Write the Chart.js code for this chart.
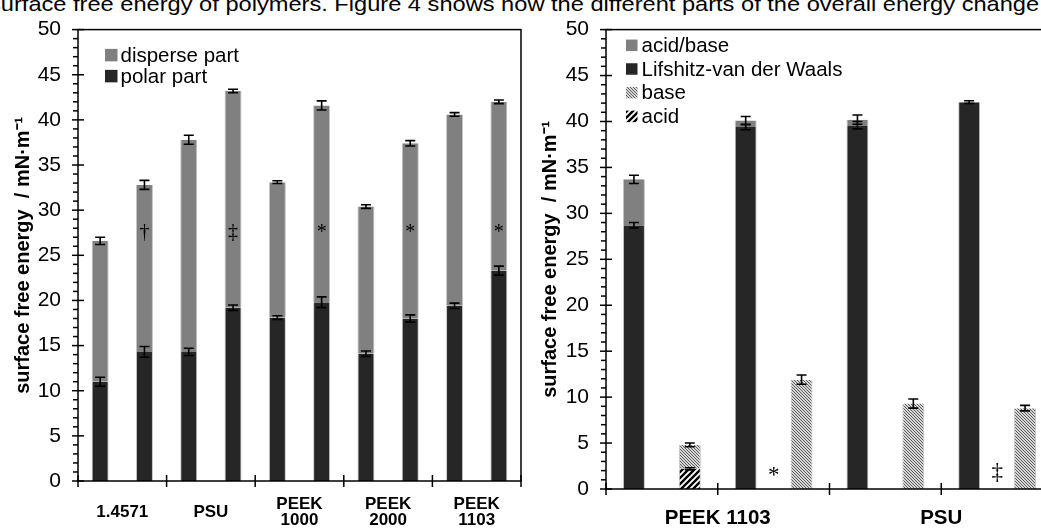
<!DOCTYPE html>
<html>
<head>
<meta charset="utf-8">
<script src="https://cdn.jsdelivr.net/npm/chart.js@4.4.1/dist/chart.umd.min.js"></script>
<style>
body { margin: 0; background: #fff; overflow: hidden; }
#page { position: relative; width: 1041px; height: 530px; overflow: hidden; }
#topText { position: absolute; left: -11px; top: -7px; font: 21px/21px "Liberation Sans", Arial, sans-serif; white-space: nowrap; color: #000; transform: scaleX(1.125); transform-origin: 0 0; }
#leftChart { position: absolute; left: 0; top: 0; }
#rightChart { position: absolute; left: 528px; top: 0; }
</style>
</head>
<body>
<div id="page">
<div id="topText">surface free energy of polymers. Figure 4 shows how the different parts of the overall energy change</div>
<canvas id="leftChart" width="530" height="530"></canvas>
<canvas id="rightChart" width="530" height="530"></canvas>
</div>
<script>
// left chart: polar + disperse part, two bars per material
const leftGroups = ['1.4571', 'PSU', ['PEEK', '1000'], ['PEEK', '2000'], ['PEEK', '1103']];
const leftBars = ['1.4571 (1)', '1.4571 (2)', 'PSU (1)', 'PSU (2)', 'PEEK 1000 (1)', 'PEEK 1000 (2)',
	'PEEK 2000 (1)', 'PEEK 2000 (2)', 'PEEK 1103 (1)', 'PEEK 1103 (2)'];
const polarPart = [11.0, 14.3, 14.3, 19.2, 18.1, 19.8, 14.1, 18.0, 19.4, 23.3];
const polarErr = [0.5, 0.6, 0.4, 0.3, 0.2, 0.6, 0.3, 0.4, 0.3, 0.5];
const dispersePart = [15.6, 18.5, 23.5, 24.0, 15.0, 21.8, 16.3, 19.4, 21.2, 18.7];
const totalErr = [0.4, 0.5, 0.5, 0.2, 0.15, 0.5, 0.2, 0.3, 0.2, 0.2];
const leftMarks = ['', '†', '', '‡', '', '*', '', '*', '', '*'];
const leftMarkY = 27.5;

// right chart: acid/base split, four bars per material
const rightGroups = ['PEEK 1103', 'PSU'];
const rightBars = ['PEEK 1103 LW+AB', 'PEEK 1103 acid+base', 'PEEK 1103 LW+AB (2)', 'PEEK 1103 base (2)',
	'PSU LW+AB', 'PSU base', 'PSU LW+AB (2)', 'PSU base (2)'];
const acidPart = [null, 2.2, null, null, null, null, null, null];
const acidErr = [null, 0.12, null, null, null, null, null, null];
const basePart = [null, 2.6, null, 11.9, null, 9.3, null, 8.8];
const baseErr = [null, 0.2, null, 0.5, null, 0.5, null, 0.3];
const lwPart = [28.7, null, 39.4, null, 39.6, null, 42.1, null];
const lwErr = [0.3, null, 0.3, null, 0.4, null, 0.15, null];
const abPart = [5.0, null, 0.7, null, 0.6, null, null, null];
const abErr = [0.45, null, 0.45, null, 0.5, null, null, null];
const rightMarkAt = [2.5, 6.5];
const rightMarkText = ['*', '‡'];
const rightMarkY = [1.4, 1.7];

Chart.defaults.font.family = '"Liberation Sans", Arial, sans-serif';
Chart.defaults.color = '#000';
Chart.defaults.animation = false;

const dark = '#262626';
const grey = '#808080';
const edge = '#c4c4c4';

function stipple() {
	const p = document.createElement('canvas');
	p.width = 3; p.height = 3;
	const g = p.getContext('2d');
	g.fillStyle = '#d4d4d4';
	g.fillRect(0, 0, 3, 3);
	g.fillStyle = '#606060';
	for (let i = 0; i < 3; i++) g.fillRect(i, i, 1, 1);
	return g.createPattern(p, 'repeat');
}

function hatch() {
	const p = document.createElement('canvas');
	p.width = 6; p.height = 6;
	const g = p.getContext('2d');
	g.fillStyle = '#fff';
	g.fillRect(0, 0, 6, 6);
	g.strokeStyle = '#000';
	g.lineWidth = 2.4;
	g.beginPath();
	g.moveTo(-1, 7); g.lineTo(7, -1);
	g.moveTo(-4, 4); g.lineTo(4, -4);
	g.moveTo(2, 10); g.lineTo(10, 2);
	g.stroke();
	return g.createPattern(p, 'repeat');
}

// error bars, frame, tick marks, symbols and legend
const extras = {
	id: 'extras',
	afterDatasetsDraw(chart, args, opts) {
		const c = chart.ctx;
		const x = chart.scales.x;
		const y = chart.scales.y;
		const a = chart.chartArea;
		c.save();
		c.strokeStyle = '#000';
		c.lineWidth = 1.6;
		opts.errors.forEach((errs, di) => {
			const meta = chart.getDatasetMeta(di);
			errs.forEach((e, i) => {
				const bar = meta.data[i];
				if (e == null || !bar || chart.data.datasets[di].data[i] == null) return;
				const h = Math.abs(y.getPixelForValue(0) - y.getPixelForValue(e));
				c.beginPath();
				c.moveTo(bar.x, bar.y - h); c.lineTo(bar.x, bar.y + h);
				c.moveTo(bar.x - 5, bar.y - h); c.lineTo(bar.x + 5, bar.y - h);
				c.moveTo(bar.x - 5, bar.y + h); c.lineTo(bar.x + 5, bar.y + h);
				c.stroke();
			});
		});

		c.lineWidth = 1.5;
		c.strokeRect(a.left, a.top, a.right - a.left, a.bottom - a.top);
		for (let v = y.min; v <= y.max; v++) {
			const py = y.getPixelForValue(v);
			c.beginPath();
			if (v % 5 === 0) { c.moveTo(a.left - 6, py); c.lineTo(a.left + 6, py); }
			else { c.moveTo(a.left - 5, py); c.lineTo(a.left, py); }
			c.stroke();
		}
		const n = chart.data.labels.length;
		for (let k = 0; k <= n; k += opts.groupSize) {
			const px = x.getPixelForValue(k - 0.5);
			c.beginPath();
			c.moveTo(px, a.bottom - 6); c.lineTo(px, a.bottom + 6);
			c.stroke();
		}

		c.fillStyle = '#000';
		c.font = opts.markSize + 'px "Liberation Serif"';
		c.textAlign = 'center';
		c.textBaseline = 'middle';
		opts.marks.forEach(m => c.fillText(m.text, x.getPixelForValue(m.at), y.getPixelForValue(m.y)));

		const lg = opts.legend;
		c.font = '20.5px "Liberation Sans"';
		c.textAlign = 'left';
		chart.data.datasets.slice().reverse().forEach((ds, i) => {
			const cy = a.top + lg.y + i * lg.step;
			const bx = a.left + lg.x;
			c.fillStyle = ds.backgroundColor;
			c.fillRect(bx, cy - lg.box / 2, lg.box, lg.box);
			c.fillStyle = '#000';
			c.fillText(ds.label, bx + lg.box + lg.gap, cy + 1);
		});
		c.restore();
	}
};

function yAxis(pad) {
	return {
		stacked: true,
		min: 0,
		max: 50,
		border: { display: false },
		grid: { display: false, drawTicks: false },
		ticks: { stepSize: 5, padding: 17, font: { size: 21 } },
		title: {
			display: true,
			text: 'surface free energy  / mN·m⁻¹',
			font: { size: 20, weight: 'bold' },
			padding: { top: pad, bottom: 0 }
		},
		afterFit: s => { s.width = 78; }
	};
}

function groupAxis(groups, size, pad, height) {
	return {
		type: 'category',
		labels: groups,
		position: 'bottom',
		offset: true,
		grid: { display: false, drawTicks: false },
		border: { display: false },
		ticks: { font: { size: size, weight: 'bold', lineHeight: 0.95 }, padding: pad, crossAlign: 'center', maxRotation: 0, autoSkip: false },
		afterFit: s => { s.height = height; }
	};
}

const barLook = { borderColor: edge, borderWidth: { left: 1, right: 1, top: 0, bottom: 0 }, barPercentage: 1 };

let leftChart = new Chart(document.getElementById('leftChart'), {
	type: 'bar',
	data: {
		labels: leftBars,
		datasets: [
			{ label: 'polar part', data: polarPart, backgroundColor: dark, categoryPercentage: 0.384, ...barLook },
			{ label: 'disperse part', data: dispersePart, backgroundColor: grey, categoryPercentage: 0.384, ...barLook }
		]
	},
	options: {
		responsive: false,
		layout: { padding: { top: 23, right: 9, left: 0, bottom: 0 } },
		plugins: {
			legend: { display: false },
			tooltip: { enabled: false },
			extras: {
				errors: [polarErr, totalErr],
				groupSize: 2,
				markSize: 20,
				marks: leftMarks.map((t, i) => ({ at: i, y: leftMarkY, text: t })).filter(m => m.text),
				legend: { x: 27, y: 25.5, step: 21, box: 12.5, gap: 3 }
			}
		},
		scales: {
			x: { display: false, stacked: true },
			x2: groupAxis(leftGroups, 17, 23, 49),
			y: yAxis(11)
		}
	},
	plugins: [extras]
});

const hatchFill = hatch();
const stippleFill = stipple();

let rightChart = new Chart(document.getElementById('rightChart'), {
	type: 'bar',
	data: {
		labels: rightBars,
		datasets: [
			{ label: 'acid', data: acidPart, backgroundColor: hatchFill, categoryPercentage: 0.393, ...barLook },
			{ label: 'base', data: basePart, backgroundColor: stippleFill, categoryPercentage: 0.393, ...barLook },
			{ label: 'Lifshitz-van der Waals', data: lwPart, backgroundColor: dark, categoryPercentage: 0.393, ...barLook },
			{ label: 'acid/base', data: abPart, backgroundColor: grey, categoryPercentage: 0.393, ...barLook }
		]
	},
	options: {
		responsive: false,
		layout: { padding: { top: 23, right: 5, left: 0, bottom: 0 } },
		plugins: {
			legend: { display: false },
			tooltip: { enabled: false },
			extras: {
				errors: [acidErr, baseErr, lwErr, abErr],
				groupSize: 2,
				markSize: 23,
				marks: rightMarkAt.map((at, i) => ({ at: at, y: rightMarkY[i], text: rightMarkText[i] })),
				legend: { x: 20, y: 15.7, step: 23.7, box: 11.5, gap: 4 }
			}
		},
		scales: {
			x: { display: false, stacked: true },
			x2: groupAxis(rightGroups, 20.5, 29, 41),
			y: yAxis(10)
		}
	},
	plugins: [extras]
});
</script>
</body>
</html>
